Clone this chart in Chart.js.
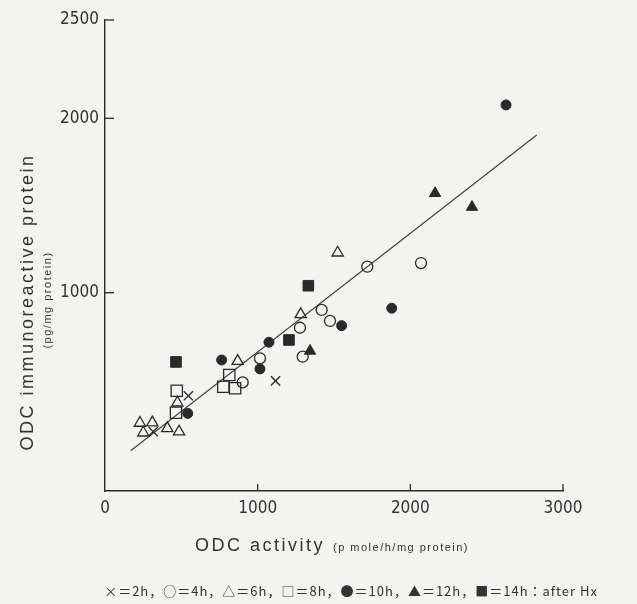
<!DOCTYPE html>
<html lang="ja">
<head>
<meta charset="UTF-8">
<title>ODC activity vs ODC immunoreactive protein</title>
<script src="https://cdn.jsdelivr.net/npm/chart.js@4"></script>
<style>
  body { margin: 0; background: #f4f4f2; }
  #wrap { width: 637px; height: 604px; }
</style>
</head>
<body>
<div id="wrap"><canvas id="odcChart" width="637" height="604"></canvas></div>
<script>
// axis ticks
const xTicks = [0, 1000, 2000, 3000];
const yTicks = [1000, 2000, 2500];

// x = ODC activity, y = ODC immunoreactive protein, one pair of lists per time point
const h2x = [546, 316, 1117];
const h2y = [409, 203, 494];
const h4x = [902, 1015, 1295, 1277, 1419, 1474, 1718, 2070];
const h4y = [486, 624, 633, 799, 901, 838, 1149, 1170];
const h6x = [229, 310, 251, 408, 485, 474, 869, 1282, 1524];
const h6y = [253, 255, 197, 222, 203, 369, 608, 876, 1229];
const h8x = [470, 465, 814, 775, 852];
const h8y = [438, 312, 528, 461, 452];
const h10x = [542, 764, 1015, 1074, 1550, 1878, 2627];
const h10y = [308, 614, 563, 716, 811, 911, 2068];
const h12x = [1343, 2162, 2404];
const h12y = [666, 1570, 1491];
const h14x = [465, 1205, 1332];
const h14y = [603, 729, 1040];

// regression line end points
const fitX = [168, 2828];
const fitY = [94, 1904];

const ink = '#2a2a2a';
const numFont = "'Liberation Sans Narrow', 'DejaVu Sans Condensed', sans-serif";
const textFont = "'Liberation Sans', Arial, sans-serif";

function pts(xs, ys) {
    return xs.map((v, i) => ({ x: v, y: ys[i] }));
}

// the printed y axis is not evenly spaced above 2000, so bend it there
class KinkScale extends Chart.LinearScale {
    getPixelForValue(value) {
        const k = this.options.kink, f = this.options.kinkAt;
        let d;
        if (value <= k) d = (value - this.min) / (k - this.min) * f;
        else d = f + (value - k) / (this.max - k) * (1 - f);
        return this.getPixelForDecimal(d);
    }
    getValueForPixel(pixel) {
        const k = this.options.kink, f = this.options.kinkAt;
        const d = this.getDecimalForPixel(pixel);
        if (d <= f) return this.min + d / f * (k - this.min);
        return k + (d - f) / (1 - f) * (this.max - k);
    }
}
KinkScale.id = 'kink';
KinkScale.defaults = Chart.LinearScale.defaults;
Chart.register(KinkScale);

const axisMarks = {
    id: 'axisMarks',
    afterDraw(chart) {
        const { ctx, chartArea: a, scales: { x, y } } = chart;
        ctx.save();
        ctx.strokeStyle = ink;
        ctx.lineWidth = 1.3;
        xTicks.forEach(v => {
            if (v === 0) return;
            const px = x.getPixelForValue(v);
            ctx.beginPath();
            ctx.moveTo(px, a.bottom);
            ctx.lineTo(px, a.bottom - 7);
            ctx.stroke();
        });
        yTicks.forEach(v => {
            const py = y.getPixelForValue(v);
            ctx.beginPath();
            ctx.moveTo(a.left, py);
            ctx.lineTo(a.left + 9, py);
            ctx.stroke();
        });

        ctx.fillStyle = '#333';

        // y title
        ctx.save();
        ctx.translate(28, 302);
        ctx.rotate(-Math.PI / 2);
        ctx.textAlign = 'center';
        ctx.textBaseline = 'middle';
        ctx.font = '18px ' + textFont;
        ctx.letterSpacing = '2.5px';
        ctx.fillText('ODC immunoreactive protein', 0, 0);
        ctx.restore();

        ctx.save();
        ctx.translate(48, 300);
        ctx.rotate(-Math.PI / 2);
        ctx.textAlign = 'center';
        ctx.textBaseline = 'middle';
        ctx.font = '11px ' + textFont;
        ctx.letterSpacing = '1.5px';
        ctx.fillText('(pg/mg protein)', 0, 0);
        ctx.restore();

        // x title
        ctx.save();
        ctx.textBaseline = 'alphabetic';
        ctx.textAlign = 'left';
        ctx.font = '18px ' + textFont;
        ctx.letterSpacing = '2.5px';
        const t1 = 'ODC activity';
        const w1 = ctx.measureText(t1).width;
        ctx.font = '11px ' + textFont;
        ctx.letterSpacing = '1.5px';
        const t2 = '(p mole/h/mg protein)';
        const w2 = ctx.measureText(t2).width;
        const start = 332 - (w1 + 8 + w2) / 2;
        ctx.font = '18px ' + textFont;
        ctx.letterSpacing = '2.5px';
        ctx.fillText(t1, start, 551);
        ctx.font = '11px ' + textFont;
        ctx.letterSpacing = '1.5px';
        ctx.fillText(t2, start + w1 + 8, 551);
        ctx.restore();

        // caption with the symbol key
        ctx.save();
        ctx.textAlign = 'center';
        ctx.textBaseline = 'middle';
        ctx.font = "13px 'Noto Sans CJK JP', sans-serif";
        ctx.letterSpacing = '1px';
        ctx.fillText('×＝2h，○＝4h，△＝6h，□＝8h，●＝10h，▲＝12h，■＝14h：after Hx', 351, 591);
        ctx.restore();

        ctx.restore();
    }
};

const ctx = document.getElementById('odcChart').getContext('2d');
new Chart(ctx, {
    type: 'scatter',
    data: {
        datasets: [
            { label: '2h', data: pts(h2x, h2y), pointStyle: 'crossRot', pointRadius: 6.5,
              borderColor: ink, backgroundColor: 'rgba(0,0,0,0)', pointBorderWidth: 1.4 },
            { label: '4h', data: pts(h4x, h4y), pointStyle: 'circle', pointRadius: 5.5,
              borderColor: ink, backgroundColor: 'rgba(0,0,0,0)', pointBorderWidth: 1.3 },
            { label: '6h', data: pts(h6x, h6y), pointStyle: 'triangle', pointRadius: 6.5,
              borderColor: ink, backgroundColor: 'rgba(0,0,0,0)', pointBorderWidth: 1.3 },
            { label: '8h', data: pts(h8x, h8y), pointStyle: 'rect', pointRadius: 8,
              borderColor: ink, backgroundColor: 'rgba(0,0,0,0)', pointBorderWidth: 1.3 },
            { label: '10h', data: pts(h10x, h10y), pointStyle: 'circle', pointRadius: 5,
              borderColor: ink, backgroundColor: ink, pointBorderWidth: 1 },
            { label: '12h', data: pts(h12x, h12y), pointStyle: 'triangle', pointRadius: 6.5,
              borderColor: ink, backgroundColor: ink, pointBorderWidth: 1 },
            { label: '14h', data: pts(h14x, h14y), pointStyle: 'rect', pointRadius: 7.5,
              borderColor: ink, backgroundColor: ink, pointBorderWidth: 1 },
            { label: 'fit', data: pts(fitX, fitY), showLine: true, pointRadius: 0,
              borderColor: '#444', borderWidth: 1.2 }
        ]
    },
    options: {
        responsive: false,
        animation: false,
        layout: { padding: { left: 0, right: 74, top: 20, bottom: 0 } },
        plugins: {
            legend: { display: false },
            tooltip: { enabled: false }
        },
        scales: {
            x: {
                type: 'linear',
                min: 0,
                max: 3000,
                afterBuildTicks: s => { s.ticks = xTicks.map(v => ({ value: v })); },
                afterFit: s => { s.height = 113; },
                ticks: { callback: v => String(v), color: '#333', padding: 7, maxRotation: 0,
                         font: { family: numFont, size: 17 } },
                grid: { display: false, drawTicks: false },
                border: { color: ink, width: 1.4 }
            },
            y: {
                type: 'kink',
                min: -137,
                max: 2500,
                kink: 2000,
                kinkAt: 0.7913,
                afterBuildTicks: s => { s.ticks = yTicks.map(v => ({ value: v })); },
                afterFit: s => { s.width = 105; },
                ticks: { callback: v => String(v), color: '#333', padding: 6,
                         font: { family: numFont, size: 17 } },
                grid: { display: false, drawTicks: false },
                border: { color: ink, width: 1.4 }
            }
        }
    },
    plugins: [axisMarks]
});
</script>
</body>
</html>
